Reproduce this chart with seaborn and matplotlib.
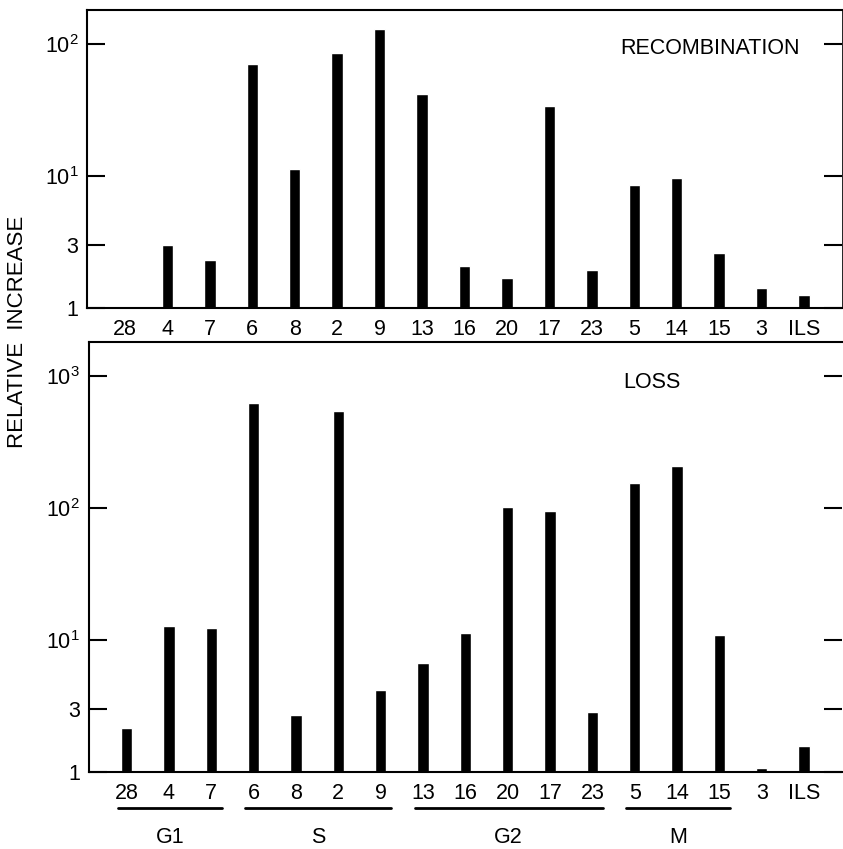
import numpy as np
import pandas as pd
import matplotlib
matplotlib.use("Agg")
import matplotlib.pyplot as plt
import matplotlib.transforms as mtransforms
import seaborn as sns

# ---- data ----
chromosomes = ["28", "4", "7", "6", "8", "2", "9", "13", "16", "20", "17",
               "23", "5", "14", "15", "3", "ILS"]
recombination = [1.0, 3.0, 2.3, 70, 11.3, 85, 130, 42, 2.1, 1.7, 34,
                 1.95, 8.6, 9.7, 2.6, 1.43, 1.25]
loss = [2.15, 12.8, 12.3, 630, 2.7, 543, 4.2, 6.7, 11.3, 103, 95,
        2.85, 155, 208, 10.9, 1.07, 1.57]
phases = ["G1", "S", "G2", "M"]
phase_first = ["28", "6", "13", "5"]
phase_last = ["7", "9", "23", "15"]

sns.set_style("ticks")
plt.rcParams["font.family"] = ["Liberation Sans", "DejaVu Sans"]
plt.rcParams["mathtext.default"] = "regular"
for k in ["text.color", "axes.labelcolor", "xtick.color", "ytick.color",
          "axes.edgecolor"]:
    plt.rcParams[k] = "black"

df = pd.DataFrame({"chrom": chromosomes, "rec": recombination, "loss": loss})

fig = plt.figure(figsize=(8.43, 8.49), dpi=100)
ax1 = fig.add_axes([0.103, 0.637, 0.896, 0.351])
ax2 = fig.add_axes([0.105, 0.091, 0.894, 0.506])

fs = 15.5


def draw_panel(ax, col, ymax, ticks, title, tx, ty):
    sns.barplot(data=df, x="chrom", y=col, order=chromosomes, color="black",
                width=0.27, saturation=1, ax=ax)
    ax.set_yscale("log")
    ax.set_ylim(1, ymax)
    ax.set_xlim(-0.9, 16.9)
    ax.set_yticks(ticks)
    ax.set_yticklabels(["1" if t == 1 else "3" if t == 3 else
                        "$10^{%d}$" % int(np.log10(t)) for t in ticks])
    ax.minorticks_off()
    ax.yaxis.set_ticks_position("both")
    ax.tick_params(axis="y", which="major", direction="in", length=13,
                   width=1.5, left=True, right=True, labelsize=fs, pad=6)
    ax.tick_params(axis="x", length=0, labelsize=fs, pad=8)
    ax.set_xlabel("")
    ax.set_ylabel("")
    for s in ax.spines.values():
        s.set_linewidth(1.5)
    ax.text(tx, ty, title, transform=ax.transAxes, ha="center", va="center",
            fontsize=fs)


draw_panel(ax1, "rec", 180, [1, 3, 10, 100], "RECOMBINATION", 0.825, 0.872)
ax1.spines["right"].set_linewidth(0.6)

draw_panel(ax2, "loss", 1820, [1, 3, 10, 100, 1000], "LOSS", 0.748, 0.907)
ax2.spines["right"].set_visible(False)

# cell-cycle phase brackets under the lower panel
trans = mtransforms.blended_transform_factory(ax2.transData, ax2.transAxes)
for name, a, b in zip(phases, phase_first, phase_last):
    x0 = chromosomes.index(a) - 0.2
    x1 = chromosomes.index(b) + 0.25
    ax2.plot([x0, x1], [-0.084, -0.084], color="black", lw=2,
             transform=trans, clip_on=False)
    ax2.text((x0 + x1) / 2, -0.152, name, transform=trans, ha="center",
             va="center", fontsize=fs)

fig.text(0.021, 0.609, "RELATIVE  INCREASE", rotation=90, ha="center",
         va="center", fontsize=fs + 0.5)

fig.savefig("out.png", dpi=100)
